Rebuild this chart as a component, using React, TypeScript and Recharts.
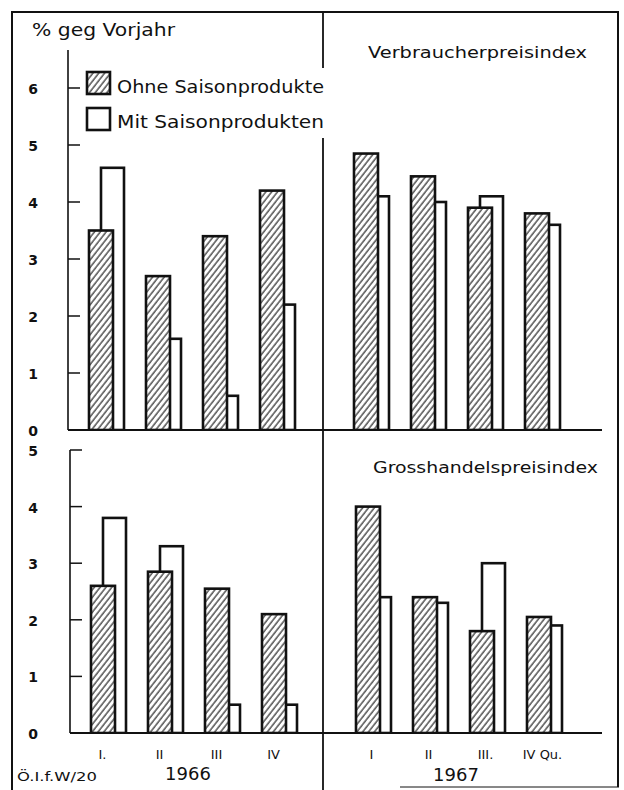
import React from "react";
import { BarChart, Bar, XAxis, YAxis, Legend } from "recharts";

const quarters66 = ["I.", "II", "III", "IV"];
const quarters67 = ["I", "II", "III.", "IV Qu."];

const vpiOhne66 = [3.5, 2.7, 3.4, 4.2];
const vpiMit66 = [4.6, 1.6, 0.6, 2.2];
const vpiOhne67 = [4.85, 4.45, 3.9, 3.8];
const vpiMit67 = [4.1, 4.0, 4.1, 3.6];

const ghOhne66 = [2.6, 2.85, 2.55, 2.1];
const ghMit66 = [3.8, 3.3, 0.5, 0.5];
const ghOhne67 = [4.0, 2.4, 1.8, 2.05];
const ghMit67 = [2.4, 2.3, 3.0, 1.9];

const topTicks = [0, 1, 2, 3, 4, 5, 6];
const bottomTicks = [0, 1, 2, 3, 4, 5];

const seriesNames = { ohne: "Ohne Saisonprodukte", mit: "Mit Saisonprodukten" };
const titles = { top: "Verbraucherpreisindex", bottom: "Grosshandelspreisindex" };
const yLabel = "% geg Vorjahr";
const years = ["1966", "1967"];
const source = "Ö.I.f.W/20";

const build = (cats: string[], ohne: number[], mit: number[]) =>
  cats.map((q, i) => ({ q, ohne: ohne[i], mit: mit[i] }));

const FONT = "'DejaVu Sans', sans-serif";
const INK = "#111";

const HatchShape = (p: any) => (
  <rect x={p.x} y={p.y} width={p.width} height={p.height} fill="url(#hatch)" stroke={INK} strokeWidth={2.6} />
);
const OpenShape = (p: any) => (
  <rect x={p.x + 12} y={p.y} width={p.width - 1} height={p.height} fill="#fff" stroke={INK} strokeWidth={2.6} />
);

const makeYTick = (labelOffset: number) => (p: any) => {
  const v = p.payload.value;
  return (
    <g>
      {v > 0 && <line x1={p.x} x2={p.x + 12} y1={p.y} y2={p.y} stroke={INK} strokeWidth={1.5} />}
      <text x={p.x - labelOffset} y={p.y + 6} textAnchor="middle" fontFamily={FONT} fontWeight="bold" fontSize={14} fill={INK}>
        {v}
      </text>
    </g>
  );
};

const makeXTick = (dx: number) => (p: any) => (
  <text x={p.x + dx} y={p.y + 26} textAnchor="middle" fontFamily={FONT} fontSize={13} fill={INK}>
    {p.payload.value}
  </text>
);

const renderLegend = (props: any) => {
  const order = ["ohne", "mit"];
  const items = order.map((k) => (props.payload || []).find((e: any) => e.dataKey === k)).filter(Boolean);
  return (
    <svg width={250} height={70} style={{ display: "block", background: "#fff" }}>
      {items.map((it: any, i: number) => (
        <g key={it.dataKey}>
          <rect x={3} y={4 + i * 36} width={23} height={22} fill={it.dataKey === "ohne" ? "url(#hatch)" : "#fff"} stroke={INK} strokeWidth={2.6} />
          <text x={33} y={25 + i * 35} fontFamily={FONT} fontSize={17} fill={INK} textLength={207} lengthAdjust="spacingAndGlyphs">
            {it.value}
          </text>
        </g>
      ))}
    </svg>
  );
};

const abs = (left: number, top: number): React.CSSProperties => ({ position: "absolute", left, top });

export default function App() {
  const vpi66 = build(quarters66, vpiOhne66, vpiMit66);
  const vpi67 = build(quarters67, vpiOhne67, vpiMit67);
  const gh66 = build(quarters66, ghOhne66, ghMit66);
  const gh67 = build(quarters67, ghOhne67, ghMit67);
  const topDomain: [number, number] = [0, 20 / 3];
  const botDomain: [number, number] = [0, 5];

  const bars = [
    <Bar key="mit" dataKey="mit" name={seriesNames.mit} barSize={24} fill="#fff" shape={OpenShape} isAnimationActive={false} />,
    <Bar key="ohne" dataKey="ohne" name={seriesNames.ohne} barSize={24} fill="#888" shape={HatchShape} isAnimationActive={false} />,
  ];

  return (
    <div style={{ position: "absolute", left: 0, top: 0, width: 624, height: 790, background: "#fff", overflow: "hidden" }}>
      <svg width={624} height={790} style={abs(0, 0)}>
        <defs>
          <pattern id="hatch" patternUnits="userSpaceOnUse" width={4.6} height={4.6} patternTransform="rotate(38)">
            <rect width={4.6} height={4.6} fill="#fff" />
            <line x1={1} y1={0} x2={1} y2={4.6} stroke={INK} strokeWidth={1.1} />
          </pattern>
        </defs>
        <line x1={11} x2={619} y1={12} y2={12} stroke={INK} strokeWidth={2} />
        <line x1={12} x2={12} y1={11} y2={790} stroke={INK} strokeWidth={2} />
        <line x1={618} x2={618} y1={11} y2={787} stroke={INK} strokeWidth={2} />
        <line x1={323} x2={323} y1={11} y2={790} stroke={INK} strokeWidth={1.8} />
        <line x1={400} x2={619} y1={787} y2={787} stroke={INK} strokeWidth={1} />
        <text x={32} y={36} fontFamily={FONT} fontSize={17} fill={INK} textLength={143} lengthAdjust="spacingAndGlyphs">
          {yLabel}
        </text>
        <text x={368} y={58} fontFamily={FONT} fontSize={16} fill={INK} textLength={219} lengthAdjust="spacingAndGlyphs">
          {titles.top}
        </text>
        <text x={373} y={473} fontFamily={FONT} fontSize={16} fill={INK} textLength={225} lengthAdjust="spacingAndGlyphs">
          {titles.bottom}
        </text>
        <text x={188} y={780} textAnchor="middle" fontFamily={FONT} fontSize={18} fill={INK}>
          {years[0]}
        </text>
        <text x={456} y={781} textAnchor="middle" fontFamily={FONT} fontSize={18} fill={INK}>
          {years[1]}
        </text>
        <text x={17} y={781} fontFamily={FONT} fontSize={12} fill={INK} textLength={80} lengthAdjust="spacingAndGlyphs">
          {source}
        </text>
      </svg>

      {/* top-left: Verbraucherpreisindex 1966 */}
      <div style={abs(0, 0)}>
        <BarChart width={323} height={440} data={vpi66} margin={{ top: 50, right: 0, bottom: 0, left: 0 }} barGap={-24}>
          <XAxis dataKey="q" height={10} tick={false} tickLine={false} axisLine={{ stroke: INK, strokeWidth: 2 }} padding={{ left: 4, right: 23 }} />
          <YAxis width={68} domain={topDomain} ticks={topTicks} tickSize={0} tickMargin={0} tickLine={false} tick={makeYTick(35)} axisLine={{ stroke: INK, strokeWidth: 1.6 }} allowDataOverflow />
          <Legend layout="vertical" align="center" verticalAlign="middle" content={renderLegend} wrapperStyle={{ left: 84, top: 68, width: 250, height: 70 }} />
          {bars}
        </BarChart>
      </div>

      {/* top-right: Verbraucherpreisindex 1967 */}
      <div style={abs(323, 0)}>
        <BarChart width={290} height={440} data={vpi67} margin={{ top: 50, right: 11, bottom: 0, left: 0 }} barGap={-24}>
          <XAxis dataKey="q" height={10} tick={false} tickLine={false} axisLine={{ stroke: INK, strokeWidth: 2 }} padding={{ left: 14, right: 37 }} />
          <YAxis hide domain={topDomain} ticks={topTicks} allowDataOverflow />
          {bars}
        </BarChart>
      </div>

      {/* bottom-left: Grosshandelspreisindex 1966 */}
      <div style={abs(0, 400)}>
        <BarChart width={323} height={390} data={gh66} margin={{ top: 50, right: 0, bottom: 27, left: 0 }} barGap={-24}>
          <XAxis dataKey="q" height={30} tickSize={0} tickMargin={0} tickLine={false} tick={makeXTick(0)} interval={0} axisLine={{ stroke: INK, strokeWidth: 2 }} padding={{ left: 4, right: 21 }} />
          <YAxis width={70} domain={botDomain} ticks={bottomTicks} tickSize={0} tickMargin={0} tickLine={false} tick={makeYTick(37)} axisLine={{ stroke: INK, strokeWidth: 1.6 }} allowDataOverflow />
          {bars}
        </BarChart>
      </div>

      {/* bottom-right: Grosshandelspreisindex 1967 */}
      <div style={abs(323, 400)}>
        <BarChart width={290} height={390} data={gh67} margin={{ top: 50, right: 11, bottom: 27, left: 0 }} barGap={-24}>
          <XAxis dataKey="q" height={30} tickSize={0} tickMargin={0} tickLine={false} tick={makeXTick(4)} interval={0} axisLine={{ stroke: INK, strokeWidth: 2 }} padding={{ left: 16, right: 35 }} />
          <YAxis hide domain={botDomain} ticks={bottomTicks} allowDataOverflow />
          {bars}
        </BarChart>
      </div>
    </div>
  );
}
